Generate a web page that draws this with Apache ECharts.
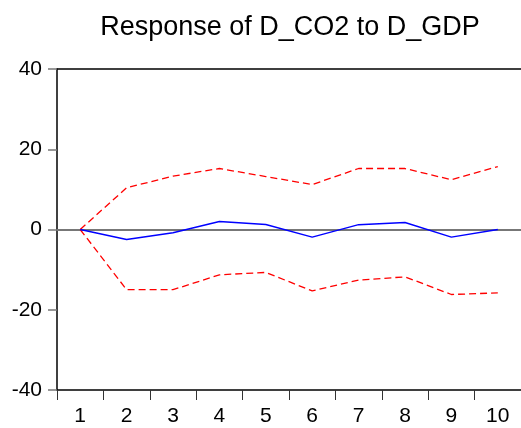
<!DOCTYPE html>
<html>
<head>
<meta charset="utf-8">
<script src="https://cdn.jsdelivr.net/npm/echarts@6/dist/echarts.min.js"></script>
<style>
  html, body { margin: 0; padding: 0; background: #fff; }
  #chart { width: 521px; height: 428px; }
</style>
</head>
<body>
<div id="chart"></div>
<script>
// impulse response, D_CO2 to D_GDP
const periods = ['1', '2', '3', '4', '5', '6', '7', '8', '9', '10'];
const response = [0, -2.5, -0.8, 2.0, 1.25, -1.9, 1.2, 1.75, -1.9, 0];
const upperBand = [0, 10.4, 13.3, 15.2, 13.2, 11.2, 15.2, 15.2, 12.4, 15.7];
const lowerBand = [0, -15, -15, -11.3, -10.7, -15.3, -12.6, -11.8, -16.2, -15.8];
const yTicks = { min: -40, max: 40, interval: 20 };

let textColor = '#000000';
let fontFamily = '"Liberation Sans", Arial, sans-serif';

const chart = echarts.init(document.getElementById('chart'));

function band(name, data) {
  return {
    name,
    type: 'line',
    data,
    symbol: 'none',
    silent: true,
    lineStyle: { color: '#ff0000', width: 1.3, type: [7, 4] },
    z: 3
  };
}

chart.setOption({
  animation: false,
  title: {
    text: 'Response of D_CO2 to D_GDP',
    left: 285,
    textAlign: 'center',
    top: 9,
    textStyle: { color: textColor, fontFamily, fontSize: 27, fontWeight: 'normal' }
  },
  grid: { left: 57, right: 0, top: 69, bottom: 38 },
  xAxis: [
    {
      type: 'category',
      data: periods,
      boundaryGap: true,
      axisLine: { onZero: false, lineStyle: { color: '#000', width: 1.5 } },
      axisTick: { show: true, length: 10, lineStyle: { color: '#333' } },
      axisLabel: { color: textColor, fontFamily, fontSize: 21, margin: 16 },
      splitLine: { show: false }
    },
    {
      type: 'category',
      data: periods,
      position: 'top',
      axisLine: { onZero: false, lineStyle: { color: '#000', width: 1.5 } },
      axisTick: { show: false },
      axisLabel: { show: false }
    }
  ],
  yAxis: {
    type: 'value',
    ...yTicks,
    axisLine: { show: true, lineStyle: { color: '#000', width: 1.5 } },
    axisTick: { show: true, length: 9, lineStyle: { color: '#777', width: 1.5 } },
    axisLabel: { color: textColor, fontFamily, fontSize: 21, margin: 15 },
    splitLine: { show: false }
  },
  series: [
    band('upper', upperBand),
    band('lower', lowerBand),
    {
      name: 'response',
      type: 'line',
      data: response,
      symbol: 'none',
      silent: true,
      lineStyle: { color: '#0000ff', width: 1.4 },
      z: 4,
      markLine: {
        silent: true,
        symbol: 'none',
        label: { show: false },
        lineStyle: { color: '#777', width: 2, type: 'solid' },
        data: [{ yAxis: 0 }],
        z: 2
      }
    }
  ]
});
</script>
</body>
</html>
